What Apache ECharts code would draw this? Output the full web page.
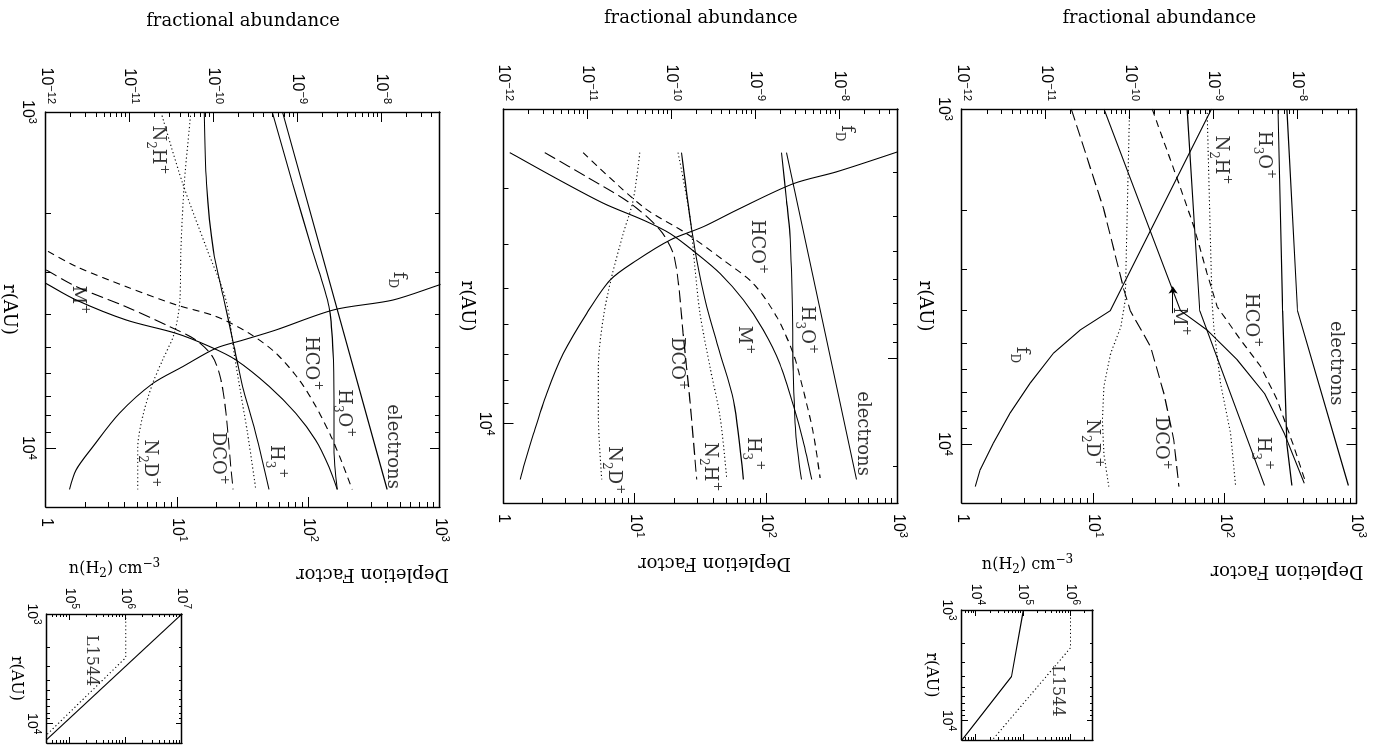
<!DOCTYPE html>
<html>
<head>
<meta charset="utf-8">
<script src="https://cdn.jsdelivr.net/npm/echarts@6.0.0/dist/echarts.min.js"></script>
<style>
html, body { margin: 0; padding: 0; background: #fff; overflow: hidden; width: 1376px; height: 746px; }
/* the figure is drawn upright and turned a quarter turn, like the scanned page */
#chart { position: absolute; left: 315px; top: -315px; width: 746px; height: 1376px; transform: rotate(90deg); background: #fff; }
</style>
</head>
<body>
<div id="chart"></div>
<script>
// ---- tick labels ----
const rMajor = [1e3, 1e4];
const abundMajor = [1e-12, 1e-11, 1e-10, 1e-9, 1e-8];
const deplMajor = [1, 10, 100, 1000];
const nMajorA = [1e4, 1e5, 1e6];
const nMajorC = [1e5, 1e6, 1e7];
const B_topMajor = [10];          // unlabelled top scale of the middle panel
const B_topRange = [2, 25.4];

// ---- panel A : [r (AU), abundance] ----
const A_electrons = [[1000, 7.4e-9], [4000, 9.9e-9], [13300, 4.0e-8]];
const A_H3Op = [[1000, 5.8e-9], [4000, 6.6e-9], [10000, 7.4e-9], [13300, 8.5e-9]];
const A_H3p = [[1000, 4.8e-10], [4000, 6.8e-10], [13300, 4.0e-9]];
const A_Mp = [[1000, 4.9e-11], [4000, 4.0e-10], [4570, 8.3e-10], [5610, 1.9e-9], [7060, 4.0e-9], [9290, 6.9e-9], [13100, 1.19e-8]];
const A_HCOp = [[1000, 1.84e-10], [1667, 3.83e-10], [2244, 5.78e-10], [3094, 8.3e-10], [3900, 1.1e-9], [4894, 2.09e-9], [5880, 3.63e-9], [7400, 5.7e-9], [10200, 9.0e-9], [13100, 1.25e-8]];
const A_N2Hp = [[1000, 8.3e-10], [3750, 9.5e-10], [4500, 1.0e-9], [6590, 1.2e-9], [9290, 1.58e-9], [13400, 1.82e-9]];
const A_DCOp = [[1000, 2.0e-11], [2000, 4.9e-11], [3470, 8.5e-11], [4000, 1.01e-10], [5120, 1.76e-10], [7060, 2.54e-10], [9720, 3.33e-10], [13400, 3.83e-10]];
const A_N2Dp = [[1000, 9.9e-11], [3720, 8.8e-11], [4470, 7.8e-11], [5360, 5.9e-11], [6740, 4.9e-11], [8500, 4.7e-11], [10700, 4.9e-11], [13400, 5.6e-11]];
const A_fD = [[1000, 79], [4000, 13.4], [4570, 7.9], [5360, 4.95], [6590, 3.29], [8090, 2.32], [9950, 1.73], [11970, 1.37], [13400, 1.26]];
const A_labels = [
  [1372, 3.96e-9, 'H{sub|3}O{sup|+}'], [1420, 1.2e-9, 'N{sub|2}H{sup|+}'], [5740, 2.84e-8, 'electrons'],
  [4270, 2.75e-9, 'HCO{sup|+}'], [4310, 3.83e-10, 'M{sup|+}'], [10670, 3.8e-9, 'H{sub|3}{sup|+}'],
  [9950, 2.31e-10, 'DCO{sup|+}'], [9950, 3.55e-11, 'N{sub|2}D{sup|+}'], [5420, 5.1e-12, 'f{sub|D}']
];
const A_arrow = [[4070, 3.27e-10], [3390, 3.27e-10]];

// ---- panel B ----
const B_electrons = [[2500, 2.35e-9], [13300, 1.6e-8]];
const B_H3Op = [[2500, 2.05e-9], [3190, 2.35e-9], [3780, 2.58e-9], [5310, 2.75e-9], [7480, 2.82e-9], [10500, 3.03e-9], [13300, 3.55e-9]];
const B_Mp = [[2500, 1.19e-12], [2830, 3.93e-12], [3240, 1.55e-11], [3530, 4.62e-11], [3780, 9.6e-11], [4190, 2.0e-10], [4640, 3.8e-10], [5310, 7.2e-10], [6190, 1.24e-9], [7350, 1.95e-9], [9330, 2.95e-9], [10900, 3.7e-9], [13300, 4.7e-9]];
const B_HCOp = [[2500, 8.9e-12], [3300, 4.6e-11], [3780, 1.51e-10], [4330, 4.14e-10], [4880, 9.4e-10], [5780, 1.79e-9], [6980, 2.82e-9], [8420, 3.72e-9], [10500, 4.9e-9], [13200, 5.9e-9]];
const B_DCOp = [[2500, 3.1e-12], [2830, 9.8e-12], [3240, 3.24e-11], [3710, 7.3e-11], [4190, 1.05e-10], [4800, 1.2e-10], [6310, 1.38e-10], [8880, 1.66e-10], [13300, 2.0e-10]];
const B_H3p = [[2500, 1.32e-10], [3470, 1.66e-10], [4330, 2.0e-10], [5500, 2.63e-10], [6980, 3.8e-10], [8880, 5.5e-10], [13300, 7.2e-10]];
const B_N2Hp = [[2500, 1.2e-10], [3470, 1.66e-10], [4480, 1.9e-10], [5690, 2.19e-10], [7480, 2.88e-10], [9660, 3.8e-10], [13300, 4.57e-10]];
const B_N2Dp = [[2500, 4.2e-11], [3190, 3.5e-11], [3780, 2.67e-11], [4720, 1.94e-11], [5790, 1.55e-11], [7480, 1.35e-11], [9660, 1.35e-11], [13300, 1.48e-11]];
const B_fD = [[2490, 994], [2757, 342], [2930, 160], [3353, 59.3], [3651, 33.1], [3908, 18.5], [4335, 10.3], [4797, 6.46], [5690, 4.29], [6982, 2.85], [8570, 2.13], [10520, 1.69], [12470, 1.42], [13300, 1.34]];
const B_labels = [
  [2265, 1.22e-8, 'f{sub|D}'], [4050, 1.03e-9, 'HCO{sup|+}'], [6190, 4.06e-9, 'H{sub|3}O{sup|+}'],
  [6520, 7.16e-10, 'M{sup|+}'], [7350, 1.15e-10, 'DCO{sup|+}'], [10520, 1.92e-8, 'electrons'],
  [11650, 9.4e-10, 'H{sub|3}{sup|+}'], [12470, 2.88e-10, 'N{sub|2}H{sup|+}'], [12690, 2.04e-11, 'N{sub|2}D{sup|+}']
];

// ---- panel C ----
const C_electrons = [[1000, 6.6e-10], [13300, 1.17e-8]];
const C_H3Op = [[1000, 5.0e-10], [1630, 8.7e-10], [2580, 1.5e-9], [3800, 2.37e-9], [5100, 2.64e-9], [7200, 2.72e-9], [10100, 2.72e-9], [13300, 2.98e-9]];
const C_H3p = [[1000, 7.7e-11], [1630, 8.2e-11], [2580, 9.9e-11], [3630, 1.33e-10], [4990, 1.75e-10], [6560, 2.2e-10], [8650, 3.03e-10], [13300, 4.57e-10]];
const C_N2Hp = [[1000, 2.35e-11], [1630, 4.26e-11], [2520, 8.1e-11], [3630, 1.4e-10], [5220, 1.75e-10], [6870, 2.1e-10], [9030, 2.53e-10], [13300, 3.18e-10]];
const C_N2Dp = [[1000, 5.35e-11], [1630, 4.46e-11], [2580, 4.06e-11], [3630, 3.95e-11], [4560, 3.39e-11], [5470, 2.46e-11], [6430, 1.87e-11], [8070, 1.42e-11], [10100, 1.24e-11], [13300, 1.24e-11]];
const C_Mp = [[2900, 4.5e-13], [3240, 1e-12], [3630, 2.3e-12], [4160, 9.0e-12], [4560, 3.55e-11], [4990, 8.9e-11], [5470, 1.83e-10], [6560, 4.57e-10], [7880, 9.5e-10], [9470, 1.64e-9], [11400, 2.37e-9], [13300, 2.98e-9]];
const C_HCOp = [[2300, 4.5e-13], [2580, 1e-12], [2885, 2.3e-12], [3310, 9.0e-12], [3750, 3.55e-11], [4060, 1.06e-10], [4560, 2.65e-10], [5220, 5.5e-10], [6280, 1.05e-9], [7540, 1.66e-9], [9250, 2.51e-9], [11100, 3.41e-9], [13300, 4.5e-9]];
const C_DCOp = [[2630, 4.5e-13], [2950, 1e-12], [3310, 2.3e-12], [3800, 9.0e-12], [4350, 2.95e-11], [4770, 6.1e-11], [5350, 9.7e-11], [6280, 1.22e-10], [7880, 1.4e-10], [10100, 1.53e-10], [13300, 1.7e-10]];
const C_fD = [[2950, 2200], [3275, 980], [3630, 437], [3880, 156], [4460, 56], [4780, 31.4], [5050, 19.7], [5730, 11], [6430, 6.5], [7890, 3.62], [9910, 2.28], [11650, 1.69], [13300, 1.51]];
const C_labels = [
  [1297, 2.14e-11, 'N{sub|2}H{sup|+}'], [3163, 1.62e-8, 'f{sub|D}'], [3630, 2.4e-12, 'M{sup|+}'],
  [5600, 1.44e-9, 'HCO{sup|+}'], [7890, 3.58e-9, 'H{sub|3}O{sup|+}'], [9910, 1.35e-8, 'electrons'],
  [10990, 5.5e-10, 'H{sub|3}{sup|+}'], [10740, 1.11e-10, 'DCO{sup|+}'], [11120, 1.71e-11, 'N{sub|2}D{sup|+}']
];

// ---- insets : [r (AU), n(H2)] ----
const inA_model = [[1000, 1e5], [4000, 5.6e4], [15000, 5e3]];
const inA_L1544 = [[1000, 1e6], [2200, 1e6], [15000, 2.2e4]];
const inC_model = [[1000, 1e7], [15000, 3.4e4]];
const inC_L1544 = [[1000, 1e6], [2500, 1e6], [15000, 2.8e4]];
const inA_labels = [[5400, 5.2e5, 'L1544']];
const inC_labels = [[2660, 2.45e5, 'L1544']];

const sans = '"Liberation Sans", Arial, sans-serif';
const serif = '"DejaVu Serif", "Liberation Serif", serif';
const SOLID = 'solid', DASH = [7, 5], LDASH = [12, 5], DOT = [1.2, 2.6];

function minorTicks(range) {
  let out = [];
  for (let e = -13; e <= 8; e++) {
    for (let k = 2; k <= 9; k++) {
      let v = k * Math.pow(10, e);
      if (v > range[0] * 1.001 && v < range[1] * 0.999) out.push(v);
    }
  }
  return out;
}
function powLabel(v) {
  let e = Math.round(Math.log10(v));
  if (e === 0) return '{b|1}';
  return '{b|10}{s|' + (e < 0 ? '\u2212' + (-e) : e) + '}';
}
function tickRich(size) {
  return {
    b: { fontFamily: sans, fontSize: size, lineHeight: size + 6, color: '#000' },
    s: { fontFamily: sans, fontSize: Math.round(size * 0.7), lineHeight: Math.round(size * 0.7), verticalAlign: 'top', color: '#000' }
  };
}
const labelRich = {
  sub: { fontFamily: serif, fontSize: 12, lineHeight: 12, verticalAlign: 'bottom', color: '#000' },
  sup: { fontFamily: serif, fontSize: 12, lineHeight: 12, verticalAlign: 'top', color: '#000' }
};

let grids = [], xAxes = [], yAxes = [], series = [];

function makeAxis(gi, pos, range, ticks, len, showLine, label, extra) {
  let ax = {
    type: 'log', logBase: 10, gridIndex: gi, position: pos, min: range[0], max: range[1],
    axisLine: { show: showLine, onZero: false, lineStyle: { color: '#000', width: 1.4 } },
    axisTick: { show: true, inside: true, length: len, customValues: ticks, lineStyle: { color: '#000', width: 1 } },
    axisLabel: { show: false },
    splitLine: { show: false }, minorTick: { show: false }, minorSplitLine: { show: false },
    silent: true
  };
  if (label) {
    ax.axisLabel = { show: true, customValues: label.values, formatter: powLabel, margin: label.margin, rich: tickRich(label.size) };
  }
  if (extra) Object.assign(ax, extra);
  return ax;
}

// one boxed frame: x = r (bottom, mirrored on top unless xt given), left y, right y
function frame(box, xr, yl, yr, o, xt) {
  let gi = grids.length;
  xt = xt || xr;
  grids.push(Object.assign({ containLabel: false, outerBoundsMode: 'none' }, box));
  let xi = xAxes.length, yi = yAxes.length;
  xAxes.push(makeAxis(gi, 'bottom', xr.range, xr.major, o.big, true, { values: xr.major, margin: o.xMargin, size: o.tick }, o.xName));
  xAxes.push(makeAxis(gi, 'bottom', xr.range, minorTicks(xr.range), o.small, false));
  xAxes.push(makeAxis(gi, 'top', xt.range, xt.major, o.big, true));
  xAxes.push(makeAxis(gi, 'top', xt.range, minorTicks(xt.range), o.small, false));
  yAxes.push(makeAxis(gi, 'left', yl.range, yl.major, o.big, true, { values: yl.major, margin: o.yMargin, size: o.tick }, o.yName));
  yAxes.push(makeAxis(gi, 'left', yl.range, minorTicks(yl.range), o.small, false));
  yAxes.push(makeAxis(gi, 'right', yr.range, yr.major, o.big, true, yr.label ? { values: yr.major, margin: o.rMargin, size: o.tick } : null));
  yAxes.push(makeAxis(gi, 'right', yr.range, minorTicks(yr.range), o.small, false));
  return { x: xi, y: yi, yr: yi + 2 };
}

function curve(ax, data, dash, right, smooth) {
  series.push({
    type: 'line', xAxisIndex: ax.x, yAxisIndex: right ? ax.yr : ax.y, data: data,
    showSymbol: false, symbol: 'none', smooth: smooth || false, clip: true, silent: true,
    lineStyle: { color: '#000', width: 1.1, type: dash }
  });
}
function labels(ax, items, size, arrow) {
  let s = {
    type: 'scatter', xAxisIndex: ax.x, yAxisIndex: ax.y, symbolSize: 1, silent: true, z: 5,
    itemStyle: { color: 'rgba(0,0,0,0)' },
    data: items.map(t => ({ value: [t[0], t[1]], label: { formatter: t[2] } })),
    label: { show: true, position: 'inside', color: '#000', fontFamily: serif, fontSize: size, lineHeight: 26, rich: labelRich }
  };
  if (arrow) {
    s.markLine = {
      silent: true, symbol: ['none', 'arrow'], symbolSize: 7, label: { show: false },
      lineStyle: { color: '#000', type: 'solid', width: 1 },
      data: [[{ coord: arrow[0] }, { coord: arrow[1] }]]
    };
  }
  series.push(s);
}

const abundAxis = { range: [0.9999e-12, 5e-8], major: abundMajor };
const deplAxis = { range: [0.9999, 1000.1], major: deplMajor, label: true };
const mainOpt = {
  big: 10, small: 5, tick: 16, xMargin: 8, yMargin: 8, rMargin: 11,
  xName: { name: 'r(AU)', nameLocation: 'middle', nameGap: 20, nameTextStyle: { fontFamily: serif, fontSize: 18, color: '#000' } },
  yName: { name: 'fractional abundance', nameLocation: 'middle', nameRotate: 90, nameGap: 82, nameTextStyle: { fontFamily: serif, fontSize: 18, color: '#000' } }
};
const insetOpt = {
  big: 6, small: 3, tick: 14, xMargin: 5, yMargin: 5,
  xName: { name: 'r(AU)', nameLocation: 'middle', nameGap: 18, nameTextStyle: { fontFamily: serif, fontSize: 16, color: '#000' } },
  yName: { name: 'n(H{sub|2}) cm{sup|\u22123}', nameLocation: 'middle', nameRotate: 90, nameGap: 34,
    nameTextStyle: { fontFamily: serif, fontSize: 16, color: '#000', lineHeight: 22, rich: labelRich } }
};

// panel A
let pA = frame({ left: 109, top: 19.5, width: 394, height: 394.5 }, { range: [999.9, 15000], major: rMajor }, abundAxis, deplAxis, mainOpt);
curve(pA, A_electrons, SOLID); curve(pA, A_H3Op, SOLID); curve(pA, A_H3p, SOLID); curve(pA, A_Mp, SOLID);
curve(pA, A_HCOp, DASH); curve(pA, A_N2Hp, DOT); curve(pA, A_DCOp, LDASH); curve(pA, A_N2Dp, DOT);
curve(pA, A_fD, SOLID, true);
labels(pA, A_labels, 18, A_arrow);

// panel B
let pB = frame({ left: 109, top: 478, width: 394, height: 394.5 }, { range: [2000, 15000], major: rMajor }, abundAxis, deplAxis, mainOpt,
  { range: B_topRange, major: B_topMajor });
curve(pB, B_electrons, SOLID); curve(pB, B_H3Op, SOLID, false, 0.3); curve(pB, B_Mp, SOLID, false, 0.3);
curve(pB, B_HCOp, DASH, false, 0.3); curve(pB, B_DCOp, LDASH, false, 0.3); curve(pB, B_H3p, SOLID, false, 0.3);
curve(pB, B_N2Hp, DOT, false, 0.3); curve(pB, B_N2Dp, DOT, false, 0.3);
curve(pB, B_fD, SOLID, true, 0.3);
labels(pB, B_labels, 18);

// panel C
let pC = frame({ left: 112, top: 936, width: 395, height: 394 }, { range: [999.9, 15000], major: rMajor }, abundAxis, deplAxis, mainOpt);
curve(pC, C_electrons, SOLID); curve(pC, C_H3Op, SOLID, false, 0.3); curve(pC, C_H3p, SOLID, false, 0.3);
curve(pC, C_N2Hp, DOT, false, 0.3); curve(pC, C_N2Dp, DOT, false, 0.3); curve(pC, C_Mp, SOLID, false, 0.3);
curve(pC, C_HCOp, DASH, false, 0.3); curve(pC, C_DCOp, LDASH, false, 0.3);
curve(pC, C_fD, SOLID, true, 0.3);
labels(pC, C_labels, 18);

// insets
let iA = frame({ left: 610, top: 283, width: 130, height: 131 }, { range: [999.9, 15000], major: rMajor },
  { range: [5000, 3e6], major: nMajorA }, { range: [5000, 3e6], major: nMajorA }, insetOpt);
curve(iA, inA_model, SOLID); curve(iA, inA_L1544, DOT);
labels(iA, inA_labels, 16);

let iC = frame({ left: 614, top: 1194, width: 129, height: 135 }, { range: [999.9, 15000], major: rMajor },
  { range: [4e4, 1.0001e7], major: nMajorC }, { range: [4e4, 1.0001e7], major: nMajorC }, insetOpt);
curve(iC, inC_model, SOLID); curve(iC, inC_L1544, DOT);
labels(iC, inC_labels, 16);

// right-hand axis titles (placed off-centre where the inset sits)
function deplTitle(x, y) {
  return { type: 'text', x: x, y: y, rotation: -Math.PI / 2, silent: true,
    style: { text: 'Depletion Factor', fontFamily: serif, fontSize: 18, fill: '#000', align: 'center', verticalAlign: 'middle' } };
}

const chart = echarts.init(document.getElementById('chart'), null, { renderer: 'canvas' });
chart.setOption({
  animation: false,
  backgroundColor: '#fff',
  grid: grids,
  xAxis: xAxes,
  yAxis: yAxes,
  series: series,
  graphic: [deplTitle(571, 89), deplTitle(563, 661.5), deplTitle(574, 1003.5)]
});
</script>
</body>
</html>
